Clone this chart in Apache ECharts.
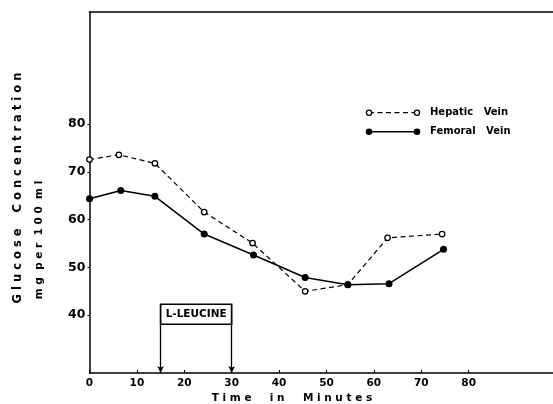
<!DOCTYPE html>
<html>
<head>
<meta charset="utf-8">
<script src="https://cdn.jsdelivr.net/npm/echarts@6/dist/echarts.min.js"></script>
<style>
html,body{margin:0;padding:0;background:#fff;}
#c{width:553px;height:404px;}
</style>
</head>
<body>
<div id="c"></div>
<script>
// ---- data ----
const hepaticTime = [0, 6.2, 13.8, 24.2, 34.4, 45.5, 54.5, 62.9, 74.4];
const hepaticGlucose = [72.6, 73.6, 71.8, 61.6, 55.1, 45.0, 46.4, 56.2, 57.0];
const femoralTime = [0, 6.6, 13.8, 24.2, 34.6, 45.5, 54.5, 63.2, 74.7];
const femoralGlucose = [64.4, 66.1, 64.9, 57.0, 52.6, 47.9, 46.4, 46.6, 53.8];
const xTicks = [0, 10, 20, 30, 40, 50, 60, 70, 80];
const yTicks = [40, 50, 60, 70, 80];
const leucineStart = 15, leucineEnd = 30;
const leucineBoxTop = 42.3, leucineBoxBottom = 38.1;
const Y_MIN = 27.9, Y_MAX = 103.5, X_MIN = 0, X_MAX = 97.8;

const pair = (xs, ys) => xs.map((x, i) => [x, ys[i]]);
const FONT = '"DejaVu Sans", sans-serif';

const chart = echarts.init(document.getElementById('c'), null, {renderer: 'canvas'});
chart.setOption({
  animation: false,
  backgroundColor: '#fff',
  grid: {left: 89.5, right: 0, top: 12, bottom: 31, show: false},
  xAxis: [{
    type: 'value', min: X_MIN, max: X_MAX,
    splitLine: {show: false},
    axisLine: {lineStyle: {color: '#000', width: 1.5}},
    axisTick: {show: true, inside: true, length: 3, customValues: xTicks, lineStyle: {color: '#000'}},
    axisLabel: {customValues: xTicks, color: '#000', fontFamily: FONT, fontWeight: 'bold', fontSize: 10.5, margin: 5}
  }, {
    type: 'value', position: 'top', min: X_MIN, max: X_MAX,
    splitLine: {show: false},
    axisLine: {show: true, lineStyle: {color: '#000', width: 1.5}},
    axisTick: {show: false}, axisLabel: {show: false}
  }],
  yAxis: {
    type: 'value', min: Y_MIN, max: Y_MAX,
    splitLine: {show: false},
    axisLine: {show: true, lineStyle: {color: '#000', width: 1.5}},
    axisTick: {show: true, inside: false, length: 2, customValues: yTicks, lineStyle: {color: '#000'}},
    axisLabel: {customValues: yTicks, color: '#000', fontFamily: FONT, fontWeight: 'bold', fontSize: 12.5, margin: 4}
  },
  graphic: [
    {type: 'text', x: 18, y: 188, rotation: Math.PI / 2,
     style: {text: 'G l u c o s e    C o n c e n t r a t i o n', fill: '#000', font: 'bold 11.5px ' + FONT, align: 'center', verticalAlign: 'middle'}},
    {type: 'text', x: 39, y: 240, rotation: Math.PI / 2,
     style: {text: 'm g  p e r  1 0 0  m l', fill: '#000', font: 'bold 10.5px ' + FONT, align: 'center', verticalAlign: 'middle'}},
    {type: 'text', x: 292, y: 398,
     style: {text: 'T i m e     i n     M i n u t e s', fill: '#000', font: 'bold 10.5px ' + FONT, align: 'center', verticalAlign: 'middle'}},
    // legend
    {type: 'line', shape: {x1: 369, y1: 112.7, x2: 417, y2: 112.7}, style: {stroke: '#000', lineWidth: 1.2, lineDash: [5, 3.5]}},
    {type: 'circle', shape: {cx: 369, cy: 112.7, r: 2.6}, style: {fill: '#fff', stroke: '#000', lineWidth: 1.3}},
    {type: 'circle', shape: {cx: 417, cy: 112.7, r: 2.6}, style: {fill: '#fff', stroke: '#000', lineWidth: 1.3}},
    {type: 'text', x: 430, y: 112.7, style: {text: 'Hepatic   Vein', fill: '#000', font: 'bold 10px ' + FONT, verticalAlign: 'middle'}},
    {type: 'line', shape: {x1: 369, y1: 131.7, x2: 417, y2: 131.7}, style: {stroke: '#000', lineWidth: 1.5}},
    {type: 'circle', shape: {cx: 369, cy: 131.7, r: 3.3}, style: {fill: '#000'}},
    {type: 'circle', shape: {cx: 417, cy: 131.7, r: 3.3}, style: {fill: '#000'}},
    {type: 'text', x: 430, y: 131.7, style: {text: 'Femoral   Vein', fill: '#000', font: 'bold 10px ' + FONT, verticalAlign: 'middle'}}
  ],
  series: [
    {
      name: 'Hepatic Vein', type: 'line', data: pair(hepaticTime, hepaticGlucose),
      symbol: 'circle', symbolSize: 5.5, z: 3,
      lineStyle: {color: '#000', width: 1.2, type: [5, 3.5]},
      itemStyle: {color: '#fff', borderColor: '#000', borderWidth: 1.3}
    },
    {
      name: 'Femoral Vein', type: 'line', data: pair(femoralTime, femoralGlucose),
      symbol: 'circle', symbolSize: 7, z: 4,
      lineStyle: {color: '#000', width: 1.5},
      itemStyle: {color: '#000'}
    },
    {
      name: 'L-LEUCINE', type: 'line', data: [],
      markArea: {
        silent: true,
        itemStyle: {color: '#fff', borderColor: '#000', borderWidth: 1.5},
        label: {show: true, position: 'inside', formatter: 'L-LEUCINE', color: '#000', fontFamily: FONT, fontWeight: 'bold', fontSize: 10.5},
        data: [[{coord: [leucineStart, leucineBoxTop]}, {coord: [leucineEnd, leucineBoxBottom]}]]
      },
      markLine: {
        silent: true, symbol: ['none', 'arrow'], symbolSize: [5, 7],
        lineStyle: {color: '#000', width: 1.3, type: 'solid'},
        label: {show: false},
        data: [
          [{coord: [leucineStart, leucineBoxTop]}, {coord: [leucineStart, Y_MIN]}],
          [{coord: [leucineEnd, leucineBoxTop]}, {coord: [leucineEnd, Y_MIN]}]
        ]
      }
    }
  ]
});
</script>
</body>
</html>
